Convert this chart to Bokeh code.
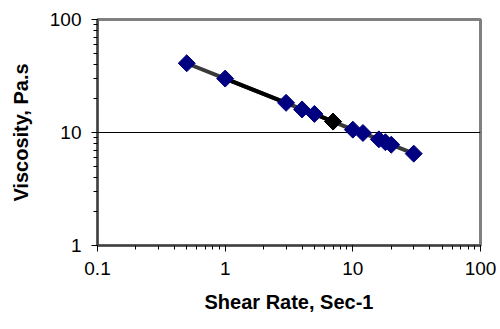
import numpy as np
from bokeh.plotting import figure
from bokeh.models import FixedTicker, LogTicker, NumeralTickFormatter
from bokeh.embed import file_html
from bokeh.resources import INLINE

# Data
shear_rate = [0.5, 1, 3, 4, 5, 7, 10, 12, 16, 18, 20, 30]
viscosity = [41, 30, 18.3, 16, 14.6, 12.5, 10.6, 9.9, 8.7, 8.2, 7.8, 6.5]
# highlighted point
hl_rate = [7]
hl_visc = [12.5]
# segments drawn in black
black_seg1_rate = [1, 3]
black_seg1_visc = [30, 18.3]
black_seg2_rate = [5, 7]
black_seg2_visc = [14.6, 12.5]

x_ticks = [0.1, 1, 10, 100]
y_ticks = [1, 10, 100]

FONT = "Liberation Sans"

p = figure(width=496, height=325, x_axis_type="log", y_axis_type="log",
           x_range=(0.1, 100), y_range=(1, 100),
           output_backend="svg", toolbar_location=None,
           min_border_left=97, min_border_right=16, min_border_top=19,
           min_border_bottom=80)

p.background_fill_color = "white"
p.border_fill_color = "white"
p.outline_line_color = "#808080"
p.outline_line_width = 3

# grid: only horizontal line at 10
p.xgrid.visible = False
p.ygrid.ticker = FixedTicker(ticks=[10])
p.ygrid.grid_line_color = "black"
p.ygrid.grid_line_width = 1

for ax, ticks in ((p.xaxis[0], x_ticks), (p.yaxis[0], y_ticks)):
    ax.ticker = LogTicker(desired_num_ticks=len(ticks), num_minor_ticks=10)
    ax.formatter = NumeralTickFormatter(format="0.[0]")
    ax.axis_line_color = "#404040"
    ax.axis_line_width = 2
    ax.major_tick_line_color = "black"
    ax.minor_tick_line_color = "black"
    ax.major_tick_out = 6
    ax.major_tick_in = 0
    ax.minor_tick_out = 4
    ax.minor_tick_in = 0
    ax.major_label_text_font = FONT
    ax.major_label_text_font_size = "19px"
    ax.major_label_text_color = "black"
    ax.major_label_standoff = 10
    ax.axis_label_text_font = FONT
    ax.axis_label_text_font_size = "20px"
    ax.axis_label_text_font_style = "bold"
    ax.axis_label_text_color = "black"

p.xaxis.axis_label_standoff = 13
p.yaxis.axis_label_standoff = 15
p.xaxis.axis_label = "Shear Rate, Sec-1"
p.yaxis.axis_label = "Viscosity, Pa.s"

p.line(shear_rate, viscosity, line_color="#3a3a3a", line_width=4)
p.line(black_seg1_rate, black_seg1_visc, line_color="black", line_width=4)
p.line(black_seg2_rate, black_seg2_visc, line_color="black", line_width=4)

p.scatter(shear_rate, viscosity, marker="square", angle=np.pi / 4, size=12,
          fill_color="#000080", line_color="#000080")
p.scatter(hl_rate, hl_visc, marker="square", angle=np.pi / 4, size=12,
          fill_color="black", line_color="black")

open("out.html", "w").write(file_html(p, INLINE))
